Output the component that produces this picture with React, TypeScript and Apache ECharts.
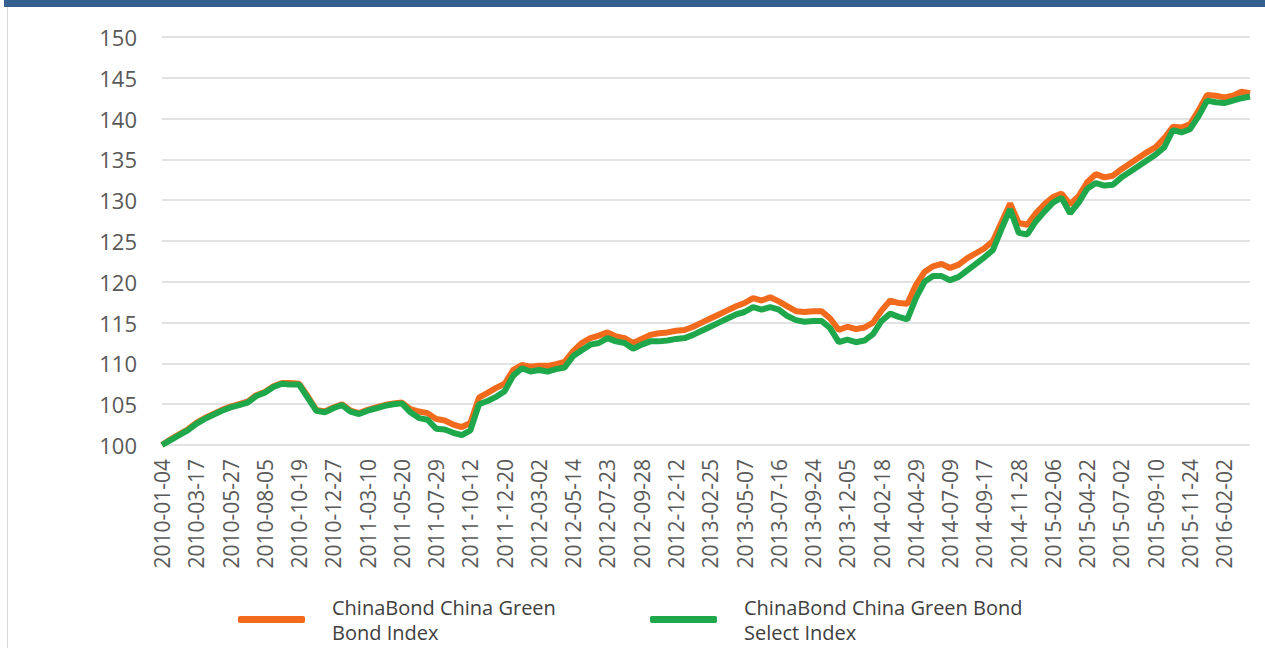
import React, { useEffect, useRef } from "react";
import * as echarts from "echarts";

const tickLabels = [
  "2010-01-04", "2010-03-17", "2010-05-27", "2010-08-05", "2010-10-19", "2010-12-27",
  "2011-03-10", "2011-05-20", "2011-07-29", "2011-10-12", "2011-12-20",
  "2012-03-02", "2012-05-14", "2012-07-23", "2012-09-28", "2012-12-12",
  "2013-02-25", "2013-05-07", "2013-07-16", "2013-09-24", "2013-12-05",
  "2014-02-18", "2014-04-29", "2014-07-09", "2014-09-17", "2014-11-28",
  "2015-02-06", "2015-04-22", "2015-07-02", "2015-09-10", "2015-11-24", "2016-02-02",
];

const greenBondIndex = [
  100.0, 100.7, 101.3, 101.9, 102.7, 103.3, 103.8, 104.3, 104.7, 105.0,
  105.3, 106.1, 106.5, 107.2, 107.6, 107.6, 107.5, 106.0, 104.3, 104.1,
  104.6, 105.0, 104.2, 103.9, 104.3, 104.6, 104.9, 105.1, 105.2, 104.4,
  104.1, 103.9, 103.2, 103.0, 102.5, 102.2, 102.7, 105.8, 106.4, 107.0,
  107.5, 109.2, 109.8, 109.6, 109.7, 109.7, 109.9, 110.2, 111.5, 112.5,
  113.1, 113.4, 113.8, 113.3, 113.1, 112.5, 113.0, 113.5, 113.7, 113.8,
  114.0, 114.1, 114.5, 115.0, 115.5, 116.0, 116.5, 117.0, 117.4, 118.0,
  117.7, 118.1, 117.6, 117.0, 116.4, 116.3, 116.4, 116.4, 115.5, 114.1,
  114.5, 114.2, 114.4, 115.0, 116.5, 117.7, 117.4, 117.3, 119.6, 121.2,
  121.9, 122.2, 121.7, 122.1, 122.9, 123.5, 124.1, 125.0, 127.3, 129.6,
  127.2, 127.0, 128.4, 129.5, 130.4, 130.8, 129.5, 130.5, 132.2, 133.2,
  132.8, 133.0, 133.8, 134.5, 135.2, 135.9, 136.5, 137.6, 139.0, 138.9,
  139.3, 141.0, 142.9, 142.8, 142.6, 142.8, 143.3, 143.1,
];

const greenBondSelectIndex = [
  100.0, 100.6, 101.2, 101.8, 102.6, 103.2, 103.7, 104.2, 104.6, 104.9,
  105.2, 106.0, 106.4, 107.1, 107.5, 107.4, 107.4, 105.8, 104.2, 104.0,
  104.5, 104.9, 104.1, 103.8, 104.2, 104.5, 104.8, 105.0, 105.1, 104.0,
  103.3, 103.1, 102.0, 101.9, 101.5, 101.2, 101.8, 105.0, 105.4, 105.9,
  106.6, 108.5, 109.4, 109.0, 109.2, 109.0, 109.3, 109.5, 110.9, 111.6,
  112.3, 112.5, 113.1, 112.7, 112.5, 111.8, 112.3, 112.7, 112.7, 112.8,
  113.0, 113.1, 113.5, 114.0, 114.5, 115.0, 115.5, 116.0, 116.3, 116.9,
  116.6, 116.9, 116.6, 115.8, 115.3, 115.1, 115.2, 115.2, 114.3, 112.6,
  112.9, 112.6, 112.8, 113.6, 115.2, 116.1, 115.7, 115.4, 118.0, 120.0,
  120.7, 120.7, 120.2, 120.6, 121.4, 122.2, 123.0, 123.9, 126.5, 128.9,
  126.0, 125.8, 127.4, 128.6, 129.7, 130.3, 128.4, 129.7, 131.4, 132.1,
  131.8, 131.9, 132.8, 133.5, 134.2, 134.9, 135.6, 136.5, 138.6, 138.3,
  138.7, 140.3, 142.2, 142.0, 141.9, 142.2, 142.5, 142.7,
];

const seriesNames = [
  "ChinaBond China Green Bond Index",
  "ChinaBond China Green Bond Select Index",
];
const legendLabels = [
  "ChinaBond China Green\nBond Index",
  "ChinaBond China Green Bond\nSelect Index",
];

const POINTS_PER_TICK = 4;

export default function App() {
  const ref = useRef<HTMLDivElement>(null);

  useEffect(() => {
    if (!ref.current) return;
    const chart = echarts.init(ref.current, undefined, { renderer: "svg" });

    const categories: string[] = [];
    for (let i = 0; i < greenBondIndex.length; i++) {
      categories.push(i % POINTS_PER_TICK === 0 ? tickLabels[i / POINTS_PER_TICK] : "");
    }

    const font = "'Open Sans', sans-serif";
    const legendCommon = {
      orient: "horizontal" as const,
      icon: "roundRect",
      itemWidth: 67,
      itemHeight: 7,
      top: 586,
      textStyle: {
        fontFamily: font,
        fontSize: 20,
        color: "#404040",
        lineHeight: 25,
        padding: [7, 0, 0, 22],
      },
      formatter: (name: string) => legendLabels[seriesNames.indexOf(name)],
    };

    chart.setOption({
      animation: false,
      backgroundColor: "#ffffff",
      textStyle: { fontFamily: font },
      graphic: [
        { type: "rect", left: 4, top: 0, shape: { width: 1261, height: 7 }, style: { fill: "#365F91" } },
        { type: "rect", left: 7, top: 7, shape: { width: 1, height: 641 }, style: { fill: "#D6D6D6" } },
      ],
      grid: { left: 162, right: 15, top: 37, bottom: 203, containLabel: false },
      xAxis: {
        type: "category",
        data: categories,
        boundaryGap: false,
        axisLine: { show: false },
        axisTick: { show: false },
        axisLabel: {
          interval: (index: number) => index % POINTS_PER_TICK === 0,
          rotate: 90,
          margin: 14,
          fontSize: 21,
          fontFamily: font,
          color: "#595959",
        },
        splitLine: { show: false },
      },
      yAxis: {
        type: "value",
        min: 100,
        max: 150,
        interval: 5,
        axisLine: { show: false },
        axisTick: { show: false },
        axisLabel: { margin: 25, fontSize: 22, fontFamily: font, color: "#595959" },
        splitLine: { lineStyle: { color: "#D9D9D9", width: 1.5 } },
      },
      legend: [
        { ...legendCommon, left: 233, data: [seriesNames[0]] },
        { ...legendCommon, left: 645, data: [seriesNames[1]] },
      ],
      series: [
        {
          name: seriesNames[0],
          type: "line",
          data: greenBondIndex,
          showSymbol: false,
          symbol: "none",
          lineStyle: { color: "#F26A1B", width: 6 },
          itemStyle: { color: "#F26A1B" },
        },
        {
          name: seriesNames[1],
          type: "line",
          data: greenBondSelectIndex,
          showSymbol: false,
          symbol: "none",
          lineStyle: { color: "#1FA74C", width: 6 },
          itemStyle: { color: "#1FA74C" },
        },
      ],
    });

    return () => chart.dispose();
  }, []);

  return (
    <div
      ref={ref}
      style={{ position: "fixed", left: 0, top: 0, width: 1265, height: 648, background: "#fff" }}
    />
  );
}
